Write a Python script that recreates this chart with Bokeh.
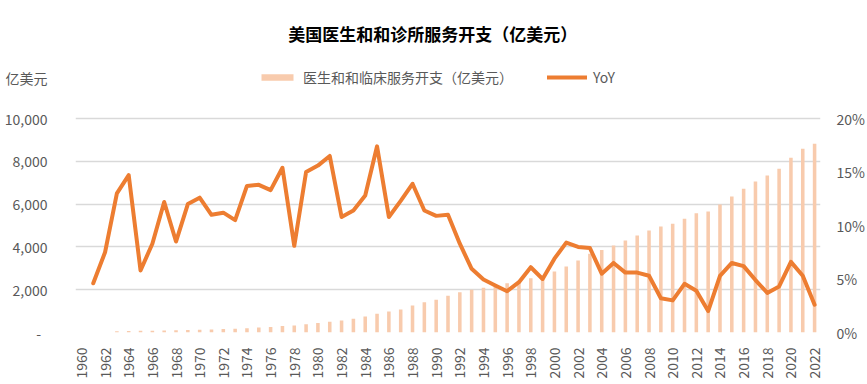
import math
from bokeh.plotting import figure
from bokeh.models import (Range1d, LinearAxis, FixedTicker, NumeralTickFormatter,
                          PrintfTickFormatter, Legend, LegendItem, Label, ColumnDataSource)
from bokeh.embed import file_html
from bokeh.resources import INLINE

nan = float("nan")

years = list(range(1960, 2023))

# 医生和和临床服务开支（亿美元）
spend = [nan, nan, nan, 62, 70, 78, 85, 95, 105, 115,
         130, 145, 160, 180, 200, 230, 260, 300, 330, 380,
         440, 500, 560, 640, 748, 872, 981, 1070, 1262, 1417,
         1530, 1713, 1880, 1994, 2087, 2150, 2305, 2400, 2539, 2660,
         2850, 3084, 3364, 3676, 3850, 4065, 4300, 4533, 4766, 4953,
         5078, 5312, 5577, 5655, 5982, 6355, 6713, 7056, 7336, 7648,
         8162, 8583, 8816]

# YoY (%)
yoy = [nan, 4.6, 7.5, 13.0, 14.7, 5.8, 8.3, 12.2, 8.5, 12.0,
       12.6, 11.0, 11.2, 10.5, 13.7, 13.8, 13.3, 15.4, 8.1, 15.0,
       15.6, 16.5, 10.8, 11.4, 12.8, 17.4, 10.8, 12.3, 13.9, 11.4,
       10.9, 11.0, 8.3, 5.95, 4.95, 4.4, 3.86, 4.7, 6.1, 5.0,
       6.9, 8.4, 8.0, 7.9, 5.5, 6.5, 5.6, 5.6, 5.3, 3.2,
       3.0, 4.55, 3.9, 2.0, 5.3, 6.5, 6.2, 4.9, 3.7, 4.3,
       6.6, 5.3, 2.6]

x_ticks = years[::2]
x_labels = [str(y) for y in x_ticks]
left_ticks = [0, 2000, 4000, 6000, 8000, 10000]
right_ticks = [0, 5, 10, 15, 20]

title_text = "美国医生和和诊所服务开支（亿美元）"
unit_text = "亿美元"
bar_name = "医生和和临床服务开支（亿美元）"
line_name = "YoY"

FONT = "Noto Sans CJK SC"
TXT = "#595959"

# layout (pixels)
W, H = 867, 384
LEFT, RIGHT, BOTTOM = 75, 45, 52
GRID_TOP = 118                      # pixel row of the 10,000 / 20% gridline
FRAME_H = H - BOTTOM                # frame reaches the top of the canvas
GRID_H = FRAME_H - GRID_TOP
Y_MAX = 10000 * FRAME_H / GRID_H    # left range top so 10,000 sits at GRID_TOP
YOY_MAX = 20 * FRAME_H / GRID_H

def y_at(px):                       # data value at a pixel row
    return (FRAME_H - px) / GRID_H * 10000

src = ColumnDataSource(dict(year=years, spend=spend, yoy=yoy))

p = figure(width=W, height=H, output_backend="svg", toolbar_location=None,
           x_range=Range1d(1959.5, 2022.5), y_range=Range1d(0, Y_MAX),
           min_border_left=LEFT, min_border_right=RIGHT, min_border_top=0,
           min_border_bottom=BOTTOM)
p.outline_line_color = None
p.background_fill_color = "white"
p.border_fill_color = "white"
p.extra_y_ranges = {"yoy": Range1d(0, YOY_MAX)}

bars = p.vbar(x="year", top="spend", width=0.3, source=src,
              fill_color="#F8CBAD", line_color=None)
line = p.line(x="year", y="yoy", source=src, y_range_name="yoy",
              line_width=4, line_color="#ED7D31", line_join="round", line_cap="round")

# x axis
xa = p.xaxis[0]
xa.ticker = FixedTicker(ticks=x_ticks)
xa.major_label_overrides = {t: l for t, l in zip(x_ticks, x_labels)}
xa.major_label_orientation = math.pi / 2
xa.major_label_standoff = 9
xa.axis_line_color = None
xa.major_tick_line_color = None
xa.minor_tick_line_color = None
xa.major_label_text_font = FONT
xa.major_label_text_font_size = "14px"
xa.major_label_text_color = TXT

# left axis (the unit text sits above the top tick, as in the original)
unit_tick = 11900
ya = p.yaxis[0]
ya.ticker = FixedTicker(ticks=left_ticks + [unit_tick])
ya.formatter = NumeralTickFormatter(format="0,0")
ya.major_label_overrides = {0: "-\u00a0\u00a0", unit_tick: unit_text}
ya.major_label_standoff = 22
ya.axis_line_color = None
ya.major_tick_line_color = None
ya.minor_tick_line_color = None
ya.major_label_text_font = FONT
ya.major_label_text_font_size = "14px"
ya.major_label_text_color = TXT

# right axis
ra = LinearAxis(y_range_name="yoy", ticker=FixedTicker(ticks=right_ticks),
                formatter=PrintfTickFormatter(format="%d%%"))
ra.major_label_standoff = 10
ra.axis_line_color = None
ra.major_tick_line_color = None
ra.minor_tick_line_color = None
ra.major_label_text_font = FONT
ra.major_label_text_font_size = "14px"
ra.major_label_text_color = TXT
p.add_layout(ra, "right")

p.xgrid.visible = False
p.ygrid.ticker = FixedTicker(ticks=left_ticks)
p.ygrid.grid_line_color = "#D9D9D9"
p.ygrid.grid_line_width = 1.5

legend = Legend(items=[LegendItem(label=bar_name, renderers=[bars]),
                       LegendItem(label=line_name, renderers=[line])],
                location=(182, 245), orientation="horizontal",
                glyph_width=40, glyph_height=8, label_standoff=6, spacing=34,
                padding=0, margin=0, border_line_color=None, background_fill_alpha=0,
                label_text_font=FONT, label_text_font_size="14px",
                label_text_color=TXT, label_height=16)
p.add_layout(legend, "center")

p.add_layout(Label(x=1989.7, y=y_at(32.5), text=title_text, text_align="center",
                   text_baseline="middle", text_font=FONT, text_font_size="17px",
                   text_font_style="bold", text_color="#000000"))

open("out.html", "w").write(file_html(p, INLINE))
